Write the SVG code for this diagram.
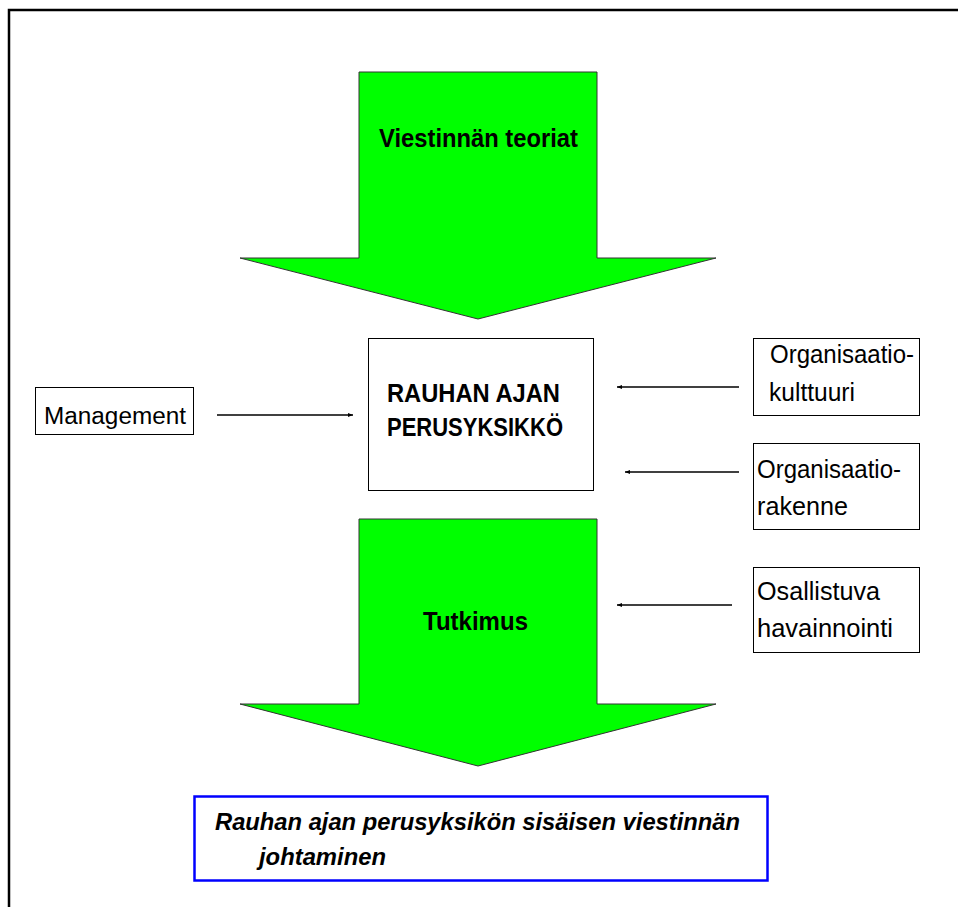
<svg xmlns="http://www.w3.org/2000/svg" width="958" height="907" viewBox="0 0 958 907">
  <style>
    text { font-family: "Liberation Sans", Arial, sans-serif; fill: #000; }
    .big { font-weight: bold; font-size: 26px; }
    .ctr { font-weight: bold; font-size: 25px; }
    .lbl { font-size: 25px; }
    .res { font-weight: bold; font-style: italic; font-size: 24px; }
    .box { fill: #fff; stroke: #000; stroke-width: 1; }
    .garrow { fill: #00ff00; stroke: #333; stroke-width: 1; }
    .conn { stroke: #000; stroke-width: 1.3; fill: none; marker-end: url(#ah); }
  </style>
  <defs>
    <marker id="ah" viewBox="0 0 10 10" refX="10" refY="5" markerWidth="5" markerHeight="5" markerUnits="userSpaceOnUse" orient="auto">
      <path d="M0,1 L10,5 L0,9 z" fill="#000"/>
    </marker>
  </defs>
  <rect x="0" y="0" width="958" height="907" fill="#fff"/>
  <path d="M9,907 V10 H958" fill="none" stroke="#000" stroke-width="2.5"/>

  <g id="viestinnan-teoriat">
    <polygon class="garrow" points="359,72 597,72 597,258 716,258 478,319 240,258 359,258"/>
    <text class="big" x="379" y="147" textLength="199" lengthAdjust="spacingAndGlyphs">Viestinnän teoriat</text>
  </g>

  <g id="tutkimus">
    <polygon class="garrow" points="359,519 597,519 597,704 716,704 478,766 240,704 359,704"/>
    <text class="big" x="423" y="630" textLength="105" lengthAdjust="spacingAndGlyphs">Tutkimus</text>
  </g>

  <g id="perusyksikko">
    <rect class="box" x="368.5" y="338.5" width="225" height="152"/>
    <text class="ctr" x="387" y="402" textLength="173" lengthAdjust="spacingAndGlyphs">RAUHAN AJAN</text>
    <text class="ctr" x="387" y="436" textLength="176" lengthAdjust="spacingAndGlyphs">PERUSYKSIKKÖ</text>
  </g>

  <g id="management">
    <rect class="box" x="35.5" y="387.5" width="158" height="47"/>
    <text x="44" y="424" style="font-size:23px" textLength="142" lengthAdjust="spacingAndGlyphs">Management</text>
  </g>

  <g id="organisaatiokulttuuri">
    <rect class="box" x="753.5" y="338.5" width="166" height="77"/>
    <text class="lbl" x="770" y="363" textLength="144" lengthAdjust="spacingAndGlyphs">Organisaatio-</text>
    <text class="lbl" x="769" y="401" textLength="86" lengthAdjust="spacingAndGlyphs">kulttuuri</text>
  </g>

  <g id="organisaatiorakenne">
    <rect class="box" x="753.5" y="443.5" width="166" height="86"/>
    <text class="lbl" x="757" y="478" textLength="144" lengthAdjust="spacingAndGlyphs">Organisaatio-</text>
    <text class="lbl" x="757" y="515" textLength="91" lengthAdjust="spacingAndGlyphs">rakenne</text>
  </g>

  <g id="osallistuva-havainnointi">
    <rect class="box" x="753.5" y="567.5" width="166" height="85"/>
    <text class="lbl" x="757" y="600" textLength="123" lengthAdjust="spacingAndGlyphs">Osallistuva</text>
    <text class="lbl" x="757" y="637" textLength="136" lengthAdjust="spacingAndGlyphs">havainnointi</text>
  </g>

  <g id="johtaminen">
    <rect x="194.5" y="796.5" width="573" height="84" fill="#fff" stroke="#0000ff" stroke-width="2.5"/>
    <text class="res" x="215" y="830" textLength="525" lengthAdjust="spacingAndGlyphs">Rauhan ajan perusyksikön sisäisen viestinnän</text>
    <text class="res" x="259" y="865" textLength="127" lengthAdjust="spacingAndGlyphs">johtaminen</text>
  </g>

  <g id="connectors">
    <line class="conn" x1="217" y1="415" x2="353" y2="415"/>
    <line class="conn" x1="739" y1="387" x2="617" y2="387"/>
    <line class="conn" x1="739" y1="472" x2="625" y2="472"/>
    <line class="conn" x1="732" y1="605" x2="617" y2="605"/>
  </g>
</svg>
